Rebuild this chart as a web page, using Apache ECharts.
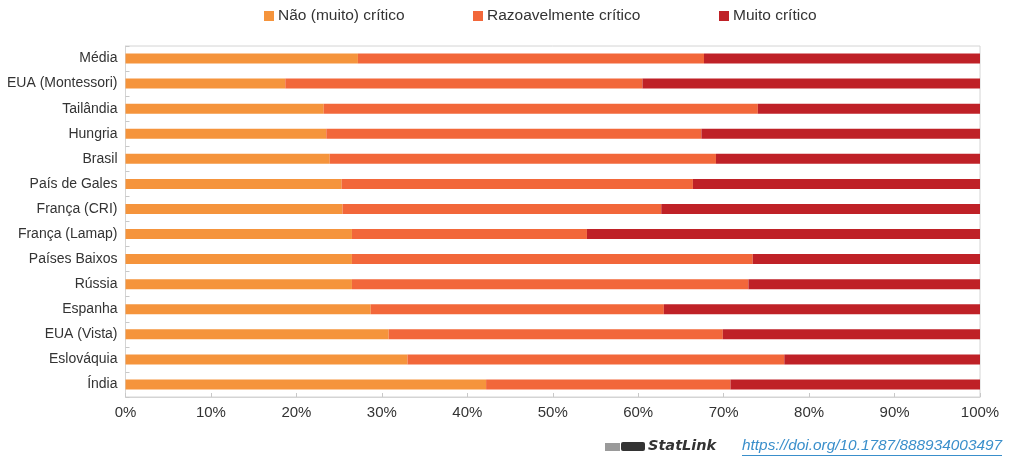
<!DOCTYPE html>
<html>
<head>
<meta charset="utf-8">
<script src="https://cdn.jsdelivr.net/npm/echarts@6/dist/echarts.min.js"></script>
<style>
  html, body { margin: 0; padding: 0; background: #fff; }
  #chart { width: 1009px; height: 458px; }
</style>
</head>
<body>
<div id="chart"></div>
<script>
  // categorias (de cima para baixo)
  var categories = ['Média', 'EUA (Montessori)', 'Tailândia', 'Hungria', 'Brasil', 'País de Gales',
    'França (CRI)', 'França (Lamap)', 'Países Baixos', 'Rússia', 'Espanha', 'EUA (Vista)',
    'Eslováquia', 'Índia'];
  var seriesNames = ['Não (muito) crítico', 'Razoavelmente crítico', 'Muito crítico'];

  // percentagens por categoria
  var naoCritico = [27.2, 18.7, 23.2, 23.5, 23.9, 25.3, 25.4, 26.5, 26.5, 26.5, 28.7, 30.8, 33.0, 42.2];
  var razoavel = [40.5, 41.8, 50.8, 43.9, 45.2, 41.1, 37.3, 27.5, 46.9, 46.4, 34.3, 39.1, 44.1, 28.6];
  var muitoCritico = [32.3, 39.5, 26.0, 32.6, 30.9, 33.6, 37.3, 46.0, 26.6, 27.1, 37.0, 30.1, 22.9, 29.2];

  var colors = ['#F5943C', '#F2673A', '#BF2127'];
  var font = '"Liberation Sans", Arial, Helvetica, sans-serif';

  var myChart = echarts.init(document.getElementById('chart'));

  function legendItem(i, left) {
    return {
      data: [seriesNames[i]],
      top: 8,
      left: left,
      padding: 0,
      itemWidth: 10,
      itemHeight: 10,
      itemGap: 5,
      icon: 'rect',
      textStyle: { fontSize: 15.5, color: '#333', fontFamily: font, padding: [0, 0, 0, -1] }
    };
  }

  var option = {
    animation: false,
    color: colors,
    legend: [legendItem(0, 264), legendItem(1, 473), legendItem(2, 719)],
    grid: {
      left: 125.5,
      right: 29,
      top: 46,
      bottom: 61,
      show: true,
      borderColor: '#d4d4d4',
      borderWidth: 1
    },
    xAxis: {
      type: 'value',
      min: 0,
      max: 100,
      interval: 10,
      splitLine: { show: false },
      axisLine: { show: true, lineStyle: { color: '#d4d4d4' } },
      axisTick: { show: true, inside: true, length: 4, lineStyle: { color: '#c8c8c8' } },
      axisLabel: { formatter: '{value}%', fontSize: 15, color: '#333', margin: 8, fontFamily: font }
    },
    yAxis: {
      type: 'category',
      data: categories,
      inverse: true,
      axisLine: { show: true, lineStyle: { color: '#d4d4d4' } },
      axisTick: { show: true, inside: true, length: 4, lineStyle: { color: '#c8c8c8' } },
      axisLabel: { fontSize: 14, color: '#333', margin: 8, fontFamily: font }
    },
    series: [
      { name: seriesNames[0], type: 'bar', stack: 'total', barWidth: 10, data: naoCritico },
      { name: seriesNames[1], type: 'bar', stack: 'total', barWidth: 10, data: razoavel },
      { name: seriesNames[2], type: 'bar', stack: 'total', barWidth: 10, data: muitoCritico }
    ],
    graphic: [
      { type: 'rect', left: 605, top: 443, shape: { width: 15, height: 8 }, style: { fill: '#9a9a9a' } },
      { type: 'rect', left: 621, top: 442, shape: { width: 24, height: 9, r: 2 }, style: { fill: '#333' } },
      {
        type: 'text', left: 648, top: 439,
        style: { text: 'StatLink', font: 'italic bold 14.5px "DejaVu Sans", sans-serif', fill: '#333' }
      },
      {
        type: 'text', left: 742, top: 438,
        style: { text: 'https://doi.org/10.1787/888934003497', font: 'italic 15.4px ' + font, fill: '#3A8FCB' }
      },
      { type: 'rect', left: 742, top: 455, shape: { width: 260, height: 1 }, style: { fill: '#3A8FCB' } }
    ]
  };

  myChart.setOption(option);
</script>
</body>
</html>
